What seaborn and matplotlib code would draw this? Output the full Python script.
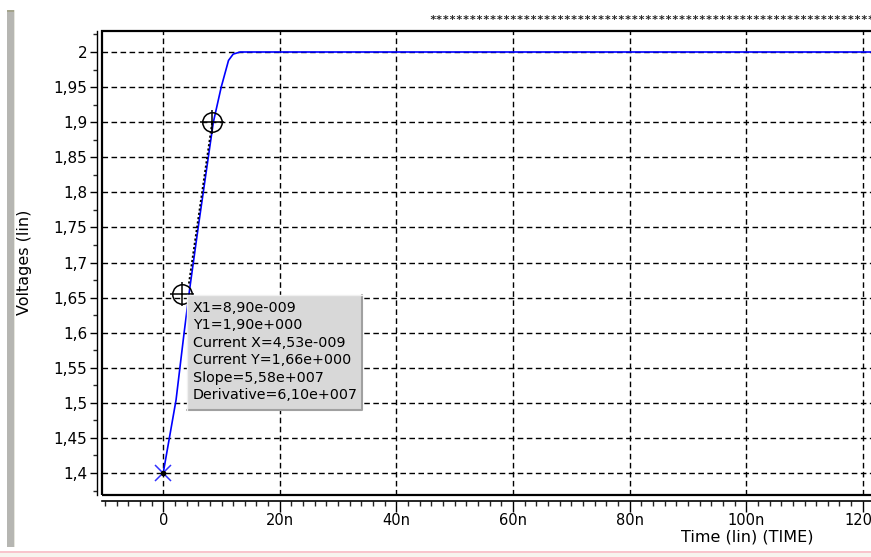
import pandas as pd
import seaborn as sns
import matplotlib
matplotlib.use("Agg")
import matplotlib.pyplot as plt
from matplotlib.ticker import MultipleLocator, FuncFormatter
from matplotlib.patches import Rectangle
from matplotlib.lines import Line2D

# waveform (time in ns, volts)
time_ns = [0, 2.2, 3.6, 4.5, 6.0, 8.6, 9.95, 11.2, 12.0, 13.2, 130]
volts = [1.4, 1.504, 1.601, 1.66, 1.75, 1.9, 1.95, 1.988, 1.997, 2.0, 2.0]

# cursor markers and the slope line between them
cursor1 = (8.4, 1.9)
cursor2 = (3.3, 1.655)
start_mark = (0, 1.4)
tangent_x = [4.4, 8.4]
tangent_y = [1.67, 1.9]

readout = ["X1=8,90e-009", "Y1=1,90e+000", "Current X=4,53e-009",
           "Current Y=1,66e+000", "Slope=5,58e+007", "Derivative=6,10e+007"]

sns.set_style("white")
plt.rcParams["font.family"] = ["DejaVu Sans"]

W, H = 871, 557
fig = plt.figure(figsize=(W / 100, H / 100), dpi=100)
fig.patch.set_facecolor("white")

# axes box in pixels: left 102, top 31, bottom 495, runs past the right edge
px_per_ns = 5.83
px_per_v = 701.7
x0 = -10.5
x_right_px = 910
ax = fig.add_axes([102 / W, 1 - 495 / H, (x_right_px - 102) / W, (495 - 31) / H])
ax.set_xlim(x0, x0 + (x_right_px - 102) / px_per_ns)
ax.set_ylim(1.4 - 22 / px_per_v, 2.0 + 21 / px_per_v)

df = pd.DataFrame({"t": time_ns, "v": volts})
sns.lineplot(data=df, x="t", y="v", color="#0000ff", lw=1.2, sort=False,
             estimator=None, ax=ax, zorder=3)

# slope line and cursors
ax.plot(tangent_x, tangent_y, color="black", ls=(0, (1.2, 1.2)), lw=1.3, zorder=4)
for cx, cy in (cursor1, cursor2):
    ax.plot(cx, cy, marker="o", ms=14, mfc="none", mec="black", mew=1.1, zorder=5)
    ax.plot(cx, cy, marker="+", ms=17, mec="black", mew=1.1, zorder=5)
ax.plot(*start_mark, marker="x", ms=12, mec="#3030ff", mew=1.1, zorder=5)
ax.plot(*start_mark, marker="o", ms=3, mfc="black", mec="black", zorder=6)

# frame + offset axis lines
for s in ax.spines.values():
    s.set_visible(False)
ax.add_patch(Rectangle((0, 0), 1, 1, transform=ax.transAxes, fill=False,
                       ec="black", lw=1.6, zorder=7, clip_on=False))
ax.spines["left"].set_visible(True)
ax.spines["bottom"].set_visible(True)
ax.spines["left"].set_position(("outward", 3.6))
ax.spines["bottom"].set_position(("outward", 4.3))
ax.spines["left"].set_color("black")
ax.spines["bottom"].set_color("black")
ax.spines["left"].set_linewidth(1.0)
ax.spines["bottom"].set_linewidth(1.2)

ax.xaxis.set_major_locator(MultipleLocator(20))
ax.xaxis.set_minor_locator(MultipleLocator(2))
ax.yaxis.set_major_locator(MultipleLocator(0.05))
ax.yaxis.set_minor_locator(MultipleLocator(0.025))
ax.xaxis.set_major_formatter(FuncFormatter(lambda v, _: "0" if abs(v) < 1e-9 else f"{int(round(v))}n"))
ax.yaxis.set_major_formatter(FuncFormatter(
    lambda v, _: f"{v:.2f}".rstrip("0").rstrip(".").replace(".", ",")))
ax.tick_params(axis="y", which="major", direction="out", length=5, width=1, pad=2,
               labelsize=11, colors="black", left=True)
ax.tick_params(axis="y", which="minor", direction="out", length=3, width=1, left=True)
ax.tick_params(axis="x", which="major", direction="out", length=8, width=1, pad=1,
               labelsize=10.5, colors="black", bottom=True)
ax.tick_params(axis="x", which="minor", direction="out", length=3.5, width=1, bottom=True)
ax.set_xlabel("")
ax.set_ylabel("")

ax.grid(True, which="major", color="black", ls=(0, (4, 2.5)), lw=1.0)
ax.set_axisbelow(True)

fig.text(25 / W, 1 - 262 / H, "Voltages (lin)", rotation=90, ha="center", va="center",
         fontsize=11.5, color="black")
fig.text(813 / W, 1 - 537 / H, "Time (lin) (TIME)", ha="right", va="center",
         fontsize=11.5, color="black")
fig.text(429 / W, 1 - 20 / H, "*" * 80, ha="left", va="center",
         family="DejaVu Sans Mono", fontsize=8, fontweight="bold", color="#202020")

# cursor readout box
bx0, bx1, by0, by1 = 187, 362, 295, 410
fig.patches.append(Rectangle((bx0 / W, 1 - by1 / H), (bx1 - bx0) / W, (by1 - by0) / H,
                             transform=fig.transFigure, fc="#d8d8d8", ec="none", zorder=10))
fig.lines.append(Line2D([bx1 / W, bx1 / W, bx0 / W], [1 - by0 / H, 1 - by1 / H, 1 - by1 / H],
                        transform=fig.transFigure, color="#a0a0a0", lw=1.5, zorder=11))
fig.lines.append(Line2D([bx0 / W, bx0 / W, bx1 / W], [1 - by1 / H, 1 - by0 / H, 1 - by0 / H],
                        transform=fig.transFigure, color="#f0f0f0", lw=1.0, zorder=11))
for i, line in enumerate(readout):
    fig.text(193 / W, 1 - (308 + i * 17.4) / H, line, ha="left", va="center",
             fontsize=10.3, color="black", zorder=12)

# window chrome: grey bar on the left, pink rule at the bottom
fig.patches.append(Rectangle((7 / W, 1 - 547 / H), 7 / W, 537 / H, transform=fig.transFigure,
                             fc="#b6b6b2", ec="none", zorder=10))
fig.patches.append(Rectangle((7 / W, 1 - 12 / H), 7 / W, 2 / H, transform=fig.transFigure,
                             fc="#a4a48c", ec="none", zorder=10))
fig.patches.append(Rectangle((14 / W, 1 - 547 / H), 1 / W, 537 / H, transform=fig.transFigure,
                             fc="#e6e6de", ec="none", zorder=10))
fig.patches.append(Rectangle((0, 1 - 553 / H), 1, 2 / H, transform=fig.transFigure,
                             fc="#f8c4cc", ec="none", zorder=10))
fig.patches.append(Rectangle((0, 0), 1, 4 / H, transform=fig.transFigure,
                             fc="#f7f3ee", ec="none", zorder=10))

fig.savefig("out.png", dpi=100)
